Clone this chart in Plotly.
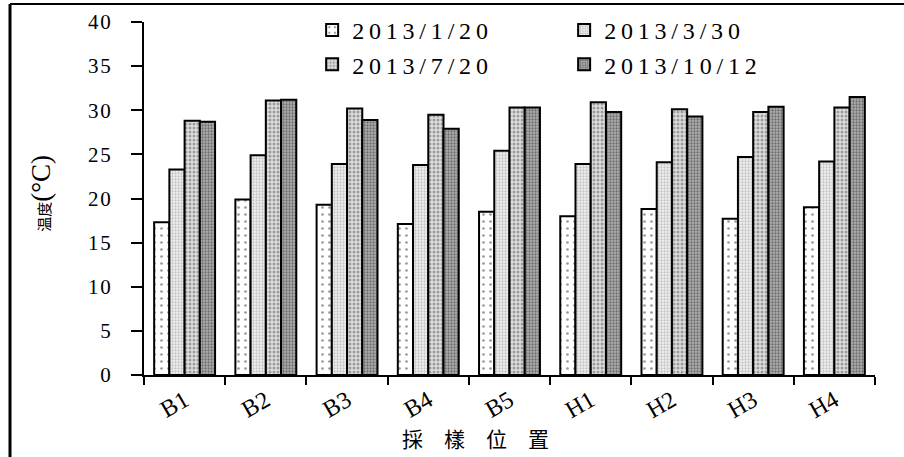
import plotly.graph_objects as go

# Sampling sites and temperature readings (°C) on four dates
sites = ["B1", "B2", "B3", "B4", "B5", "H1", "H2", "H3", "H4"]
dates = ["2013/1/20", "2013/3/30", "2013/7/20", "2013/10/12"]
t_0120 = [17.3, 19.9, 19.3, 17.1, 18.5, 18.0, 18.8, 17.7, 19.0]
t_0330 = [23.3, 24.9, 23.9, 23.8, 25.4, 23.9, 24.1, 24.7, 24.2]
t_0720 = [28.8, 31.1, 30.2, 29.5, 30.3, 30.9, 30.1, 29.8, 30.3]
t_1012 = [28.7, 31.2, 28.9, 27.9, 30.3, 29.8, 29.3, 30.4, 31.5]
y_ticks = [0, 5, 10, 15, 20, 25, 30, 35, 40]

series = [t_0120, t_0330, t_0720, t_1012]

# hatch-like fills, light to dark
fills = [
    dict(bg="#ffffff", fg="#9a9a9a", size=7, solidity=0.12),
    dict(bg="#f2f2f2", fg="#c4c4c4", size=3, solidity=0.45),
    dict(bg="#dedede", fg="#9c9c9c", size=4, solidity=0.45),
    dict(bg="#b0b0b0", fg="#6e6e6e", size=3, solidity=0.45),
]

SERIF = "Liberation Serif, Times New Roman, serif"
CJK = "Noto Sans CJK TC, Noto Sans CJK SC, sans-serif"


def spread(text, gap):
    """Wide tracking between characters."""
    return gap.join(text)


fig = go.Figure()
for name, vals, f in zip(dates, series, fills):
    fig.add_trace(go.Bar(
        x=sites, y=vals, name=spread(name, "\u2009"),
        marker=dict(
            color=f["bg"],
            line=dict(color="black", width=2),
            pattern=dict(shape=".", fillmode="replace", bgcolor=f["bg"],
                         fgcolor=f["fg"], size=f["size"], solidity=f["solidity"]),
        ),
    ))

fig.update_layout(
    width=904, height=457,
    margin=dict(l=144, r=29, t=22, b=82, autoexpand=False),
    paper_bgcolor="white", plot_bgcolor="white",
    barmode="group", bargap=0.25, bargroupgap=0,
    showlegend=True,
    legend=dict(
        orientation="h", x=0.23, y=1.04, xanchor="left", yanchor="top",
        entrywidth=207, entrywidthmode="pixels",
        font=dict(family=SERIF, size=24, color="black"),
        bgcolor="rgba(0,0,0,0)", traceorder="normal",
    ),
    font=dict(family=SERIF, color="black"),
)

fig.update_yaxes(
    range=[0, 40], tickvals=y_ticks,
    ticktext=[spread(str(v), "\u200a") for v in y_ticks],
    showgrid=False, zeroline=False,
    showline=True, linecolor="black", linewidth=2,
    ticks="outside", ticklen=11, tickwidth=2, tickcolor="black",
    ticklabelstandoff=16,
    tickfont=dict(family=SERIF, size=21, color="black"),
)
fig.update_xaxes(
    range=[-0.5, len(sites) - 0.5],
    showgrid=False, zeroline=False,
    showline=True, linecolor="black", linewidth=2,
    ticks="outside", tickson="boundaries", ticklen=8, tickwidth=2, tickcolor="black",
    tickangle=-30,
    tickfont=dict(family=SERIF, size=24, color="black"),
)

# axis titles
fig.add_annotation(
    text="温度<span style='font-family:Liberation Serif;font-size:27px'>(°C)</span>",
    xref="paper", yref="paper", x=-0.142, y=0.514,
    xanchor="center", yanchor="middle",
    textangle=-90, showarrow=False,
    font=dict(family=CJK, size=15, color="black"),
)
fig.add_annotation(
    text=spread("採樣位置", "\u2003"), xref="paper", yref="paper", x=0.453, y=-0.178,
    xanchor="center", yanchor="middle",
    showarrow=False, font=dict(family=CJK, size=21, color="black"),
)

# frame lines along the top and left edges
fig.add_shape(type="line", xref="paper", yref="paper",
              x0=-0.1833, x1=1.1, y0=1.051, y1=1.051,
              line=dict(color="black", width=2))
fig.add_shape(type="line", xref="paper", yref="paper",
              x0=-0.1833, x1=-0.1833, y0=1.051, y1=-0.3,
              line=dict(color="black", width=3))

fig.write_html("out.html")
